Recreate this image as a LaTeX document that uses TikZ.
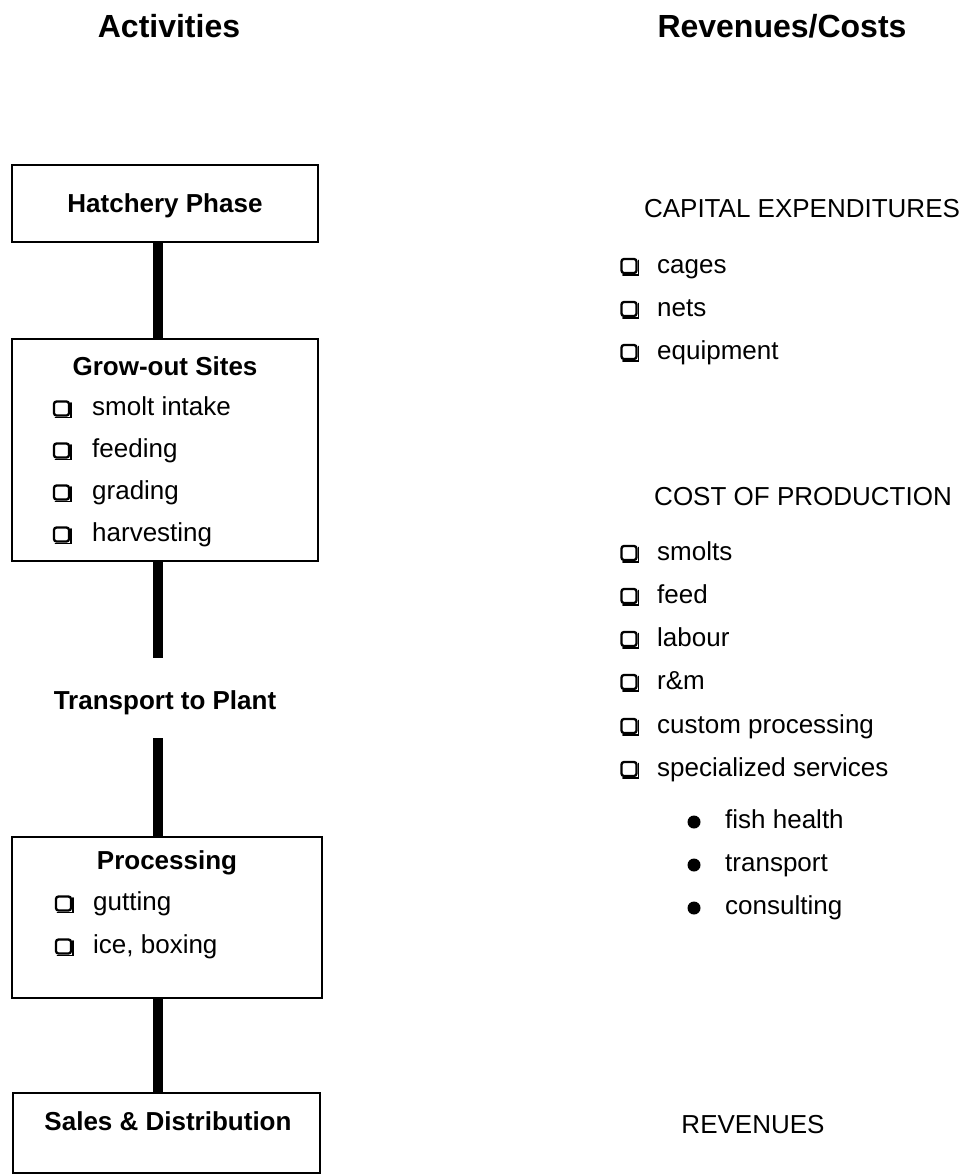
\documentclass[tikz,border=0pt]{standalone}
\usepackage{fontspec}
\setmainfont{Liberation Sans}
\usetikzlibrary{calc}
\begin{document}
\begin{tikzpicture}[x=1pt,y=-1pt,
  every node/.style={inner sep=0pt, font=\fontsize{26}{30}\selectfont},
  stage/.style={draw, line width=2pt, rectangle},
  title/.style={font=\fontsize{26}{30}\selectfont\bfseries, anchor=base},
  head/.style={font=\fontsize{32}{38}\selectfont\bfseries, anchor=base},
  sect/.style={anchor=base},
  item/.style={anchor=base west},
  chk/.style={draw, line width=2.3pt, rounded corners=2.5pt, minimum width=15pt, minimum height=14pt},
  shade/.style={line width=1.4pt, line cap=round},
  dotb/.style={circle, fill, minimum size=13pt},
  conn/.style={line width=10pt}]
\useasboundingbox (0,0) rectangle (971,1175);

% headers
\node[head] (acth) at (169,37) {Activities};
\node[head] (revh) at (782,37) {Revenues/Costs};

% stage boxes
\node[stage, minimum width=306pt, minimum height=77pt] (hatch) at (165,203.5) {};
\node[stage, minimum width=306pt, minimum height=222pt] (grow) at (165,450) {};
\node[stage, minimum width=310pt, minimum height=161pt] (proc) at (167,917.5) {};
\node[stage, minimum width=307pt, minimum height=80pt] (sales) at (166.5,1133) {};

% titles
\node[title] (hatcht) at (165,212) {Hatchery Phase};
\node[title] (growt) at (165,375) {Grow-out Sites};
\node[title] (transport) at (165,709) {Transport to Plant};
\node[title] (proct) at (167,869) {Processing};
\node[title] (salest) at (168,1130) {Sales \& Distribution};

% grow-out items
\foreach \n/\t/\b in {1/smolt intake/415, 2/feeding/457, 3/grading/499, 4/harvesting/541}{
  \node[chk] (gc\n) at (61.5,\b-6.5) {};
  \draw[shade] ($(gc\n.south west)+(2.5,0.7)$) -- ($(gc\n.south east)+(0.7,0.7)$) -- ($(gc\n.north east)+(0.7,2.5)$);
  \node[item] (gi\n) at (92,\b) {\t};
}
% processing items
\foreach \n/\t/\b in {1/gutting/910, 2/{ice, boxing}/953}{
  \node[chk] (pc\n) at (63.5,\b-6.5) {};
  \draw[shade] ($(pc\n.south west)+(2.5,0.7)$) -- ($(pc\n.south east)+(0.7,0.7)$) -- ($(pc\n.north east)+(0.7,2.5)$);
  \node[item] (pi\n) at (93,\b) {\t};
}

% connectors
\coordinate (axis) at (158,0);
\coordinate (t1) at (158,658);
\coordinate (t2) at (158,738);
\draw[conn] (hatch.south -| axis) -- (grow.north -| axis);
\draw[conn] (grow.south -| axis) -- (t1);
\draw[conn] (t2) -- (proc.north -| axis);
\draw[conn] (proc.south -| axis) -- (sales.north -| axis);

% right column
\node[sect] (capex) at (802,217) {CAPITAL EXPENDITURES};
\foreach \n/\t/\b in {1/cages/273, 2/nets/316, 3/equipment/359}{
  \node[chk] (cc\n) at (629,\b-7) {};
  \draw[shade] ($(cc\n.south west)+(2.5,0.7)$) -- ($(cc\n.south east)+(0.7,0.7)$) -- ($(cc\n.north east)+(0.7,2.5)$);
  \node[item] (ci\n) at (657,\b) {\t};
}
\node[sect] (cop) at (803,505) {COST OF PRODUCTION};
\foreach \n/\t/\b in {1/smolts/560, 2/feed/603, 3/labour/646, 4/r\&m/689, 5/custom processing/733, 6/specialized services/776}{
  \node[chk] (oc\n) at (629,\b-7) {};
  \draw[shade] ($(oc\n.south west)+(2.5,0.7)$) -- ($(oc\n.south east)+(0.7,0.7)$) -- ($(oc\n.north east)+(0.7,2.5)$);
  \node[item] (oi\n) at (657,\b) {\t};
}
\foreach \n/\t/\b in {1/fish health/828, 2/transport/871, 3/consulting/914}{
  \node[dotb] (sd\n) at (694,\b-6) {};
  \node[item] (si\n) at (725,\b) {\t};
}
\node[sect] (rev) at (753,1133) {REVENUES};
\end{tikzpicture}
\end{document}
